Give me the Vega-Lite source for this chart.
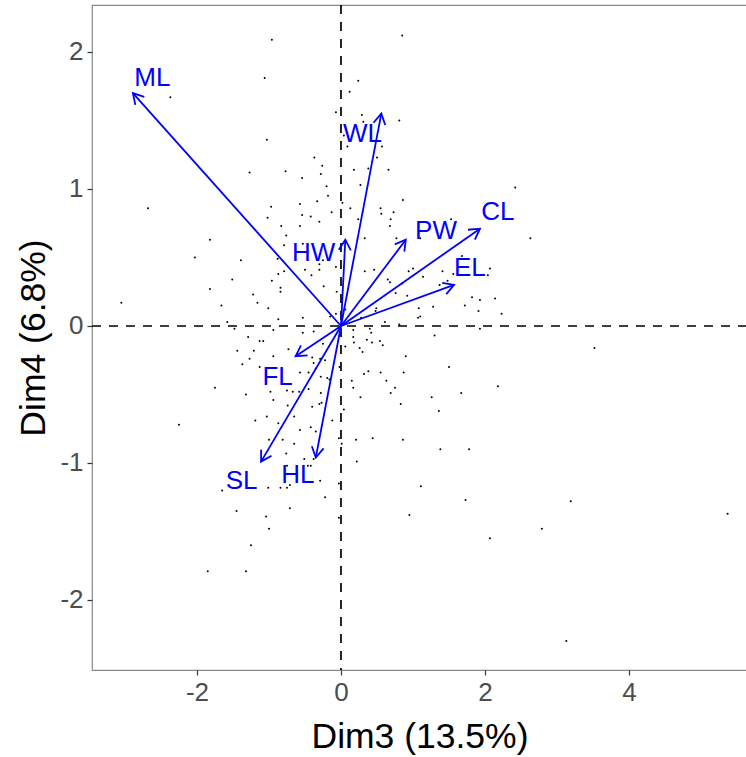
{
  "$schema": "https://vega.github.io/schema/vega-lite/v6.json",
  "width": 655,
  "height": 665,
  "autosize": {"type": "none"},
  "padding": {"left": 92, "top": 5, "right": 0, "bottom": 87},
  "background": "white",
  "config": {
    "font": "Liberation Sans",
    "view": {"stroke": "#888888", "strokeWidth": 1.2},
    "axis": {
      "grid": false,
      "domain": false,
      "ticks": true,
      "tickColor": "#333333",
      "tickSize": 5,
      "tickWidth": 1.2,
      "labelFont": "Liberation Sans",
      "labelFontSize": 26,
      "labelColor": "#4D4D4D",
      "labelExpr": "'' + datum.value",
      "titleFont": "Liberation Sans",
      "titleFontSize": 35.5,
      "titleFontWeight": "normal",
      "titleColor": "#000000"
    }
  },
  "datasets": {
    "arrows": [
      {"var": "ML", "x0": 0, "y0": 0, "x": -2.89, "y": 1.70, "lx": -2.62, "ly": 1.81},
      {"var": "WL", "x0": 0, "y0": 0, "x": 0.56, "y": 1.55, "lx": 0.30, "ly": 1.40},
      {"var": "CL", "x0": 0, "y0": 0, "x": 1.93, "y": 0.71, "lx": 2.18, "ly": 0.83},
      {"var": "PW", "x0": 0, "y0": 0, "x": 0.90, "y": 0.63, "lx": 1.32, "ly": 0.69},
      {"var": "EL", "x0": 0, "y0": 0, "x": 1.57, "y": 0.30, "lx": 1.79, "ly": 0.42},
      {"var": "HW", "x0": 0, "y0": 0, "x": 0.06, "y": 0.63, "lx": -0.38, "ly": 0.53},
      {"var": "FL", "x0": 0, "y0": 0, "x": -0.63, "y": -0.22, "lx": -0.88, "ly": -0.37},
      {"var": "SL", "x0": 0, "y0": 0, "x": -1.11, "y": -0.99, "lx": -1.38, "ly": -1.13},
      {"var": "HL", "x0": 0, "y0": 0, "x": -0.35, "y": -0.96, "lx": -0.60, "ly": -1.09}
    ],
    "obs": [
      {"x": -2.37, "y": 1.67}, {"x": -1.27, "y": 1.12}, {"x": -2.68, "y": 0.86},
      {"x": -0.96, "y": 2.09}, {"x": 0.85, "y": 2.12}, {"x": -1.06, "y": 1.81}, {"x": 0.24, "y": 1.79},
      {"x": 0.12, "y": 1.71}, {"x": -0.07, "y": 1.56}, {"x": 0.29, "y": 1.54}, {"x": 0.31, "y": 1.49},
      {"x": 0.81, "y": 1.50}, {"x": -1.03, "y": 1.36}, {"x": 0.04, "y": 1.39}, {"x": 0.09, "y": 1.31},
      {"x": 0.57, "y": 1.31}, {"x": -0.37, "y": 1.23}, {"x": 0.50, "y": 1.23}, {"x": -0.26, "y": 1.17},
      {"x": -0.77, "y": 1.13}, {"x": 0.18, "y": 1.14}, {"x": 0.38, "y": 1.15}, {"x": 0.66, "y": 1.14},
      {"x": -0.28, "y": 1.11}, {"x": -0.54, "y": 1.08}, {"x": 0.27, "y": 1.03}, {"x": -0.20, "y": 1.02},
      {"x": -0.18, "y": 0.95}, {"x": 0.86, "y": 0.92}, {"x": -0.33, "y": 0.91}, {"x": 0.02, "y": 0.90},
      {"x": -0.57, "y": 0.89}, {"x": -0.97, "y": 0.87}, {"x": 0.13, "y": 0.86}, {"x": 0.55, "y": 0.86},
      {"x": 0.73, "y": 0.83}, {"x": -0.54, "y": 0.81}, {"x": -0.42, "y": 0.80}, {"x": -0.13, "y": 0.83},
      {"x": 0.56, "y": 0.82}, {"x": -1.02, "y": 0.79}, {"x": 0.24, "y": 0.78}, {"x": 0.69, "y": 0.78},
      {"x": -0.30, "y": 0.76}, {"x": -0.83, "y": 0.73}, {"x": -0.57, "y": 0.73}, {"x": 0.68, "y": 0.73},
      {"x": 2.42, "y": 1.01}, {"x": 1.53, "y": 0.78},
      {"x": -1.82, "y": 0.63}, {"x": -2.03, "y": 0.50}, {"x": -1.39, "y": 0.48}, {"x": -1.51, "y": 0.34},
      {"x": -1.82, "y": 0.27}, {"x": -1.22, "y": 0.23}, {"x": -3.05, "y": 0.17}, {"x": -1.66, "y": 0.15},
      {"x": -1.58, "y": 0.03}, {"x": -1.48, "y": -0.02}, {"x": -1.29, "y": -0.08}, {"x": -1.44, "y": -0.18},
      {"x": -1.21, "y": -0.18}, {"x": -1.27, "y": -0.24}, {"x": -1.37, "y": -0.28}, {"x": -1.75, "y": -0.45},
      {"x": -1.32, "y": -0.50}, {"x": -1.19, "y": -0.69}, {"x": -2.25, "y": -0.72},
      {"x": -0.76, "y": 0.66}, {"x": -0.53, "y": 0.60}, {"x": -0.79, "y": 0.59}, {"x": 0.33, "y": 0.64},
      {"x": 0.77, "y": 0.64}, {"x": -0.88, "y": 0.49}, {"x": -0.25, "y": 0.48}, {"x": -0.30, "y": 0.45},
      {"x": -0.30, "y": 0.41}, {"x": -0.07, "y": 0.43}, {"x": -0.50, "y": 0.41}, {"x": -0.79, "y": 0.40},
      {"x": -0.87, "y": 0.38}, {"x": -0.41, "y": 0.37}, {"x": 0.33, "y": 0.40}, {"x": 0.46, "y": 0.41},
      {"x": 0.94, "y": 0.40}, {"x": 1.00, "y": 0.42}, {"x": -0.96, "y": 0.33}, {"x": 0.65, "y": 0.34},
      {"x": 0.68, "y": 0.32}, {"x": 0.85, "y": 0.31}, {"x": -0.84, "y": 0.28}, {"x": -0.24, "y": 0.29},
      {"x": -0.84, "y": 0.25}, {"x": -0.06, "y": 0.25}, {"x": 0.76, "y": 0.24}, {"x": 0.92, "y": 0.22},
      {"x": -1.16, "y": 0.17}, {"x": -1.01, "y": 0.13}, {"x": 0.06, "y": 0.12}, {"x": 0.49, "y": 0.13},
      {"x": 0.48, "y": 0.11}, {"x": 1.08, "y": 0.13}, {"x": -0.07, "y": 0.09}, {"x": -0.15, "y": 0.07},
      {"x": 0.28, "y": 0.06}, {"x": -0.53, "y": 0.06}, {"x": -0.87, "y": 0.05}, {"x": 0.61, "y": 0.03},
      {"x": 0.81, "y": 0.01}, {"x": 1.07, "y": 0.06}, {"x": -0.94, "y": -0.03}, {"x": -0.53, "y": -0.05},
      {"x": -0.38, "y": -0.04}, {"x": 0.17, "y": -0.03}, {"x": 0.40, "y": -0.02}, {"x": -1.13, "y": -0.11},
      {"x": -1.08, "y": -0.11}, {"x": 0.17, "y": -0.08}, {"x": 0.42, "y": -0.05}, {"x": 0.36, "y": -0.10},
      {"x": 0.43, "y": -0.12}, {"x": 0.54, "y": -0.11}, {"x": 0.18, "y": -0.12}, {"x": 0.06, "y": -0.15},
      {"x": 0.26, "y": -0.16}, {"x": 0.58, "y": -0.14}, {"x": 0.30, "y": -0.19}, {"x": -0.73, "y": -0.17},
      {"x": -0.25, "y": -0.13}, {"x": -0.94, "y": -0.22}, {"x": -0.40, "y": -0.23}, {"x": 0.90, "y": -0.22},
      {"x": -0.38, "y": -0.27}, {"x": -0.29, "y": -0.24}, {"x": -0.22, "y": -0.25}, {"x": -1.13, "y": -0.30},
      {"x": -0.02, "y": -0.30}, {"x": -0.35, "y": -0.31}, {"x": -0.57, "y": -0.34}, {"x": -0.45, "y": -0.34},
      {"x": 0.38, "y": -0.33}, {"x": 0.32, "y": -0.35}, {"x": 0.55, "y": -0.34}, {"x": 0.87, "y": -0.34},
      {"x": -0.28, "y": -0.37}, {"x": -0.19, "y": -0.38}, {"x": -0.16, "y": -0.39}, {"x": 0.15, "y": -0.40},
      {"x": 0.63, "y": -0.40}, {"x": 0.17, "y": -0.45}, {"x": 0.75, "y": -0.45}, {"x": -0.45, "y": -0.46},
      {"x": -0.98, "y": -0.48}, {"x": -0.75, "y": -0.47}, {"x": -0.67, "y": -0.48}, {"x": -0.58, "y": -0.48},
      {"x": -0.28, "y": -0.49}, {"x": 0.69, "y": -0.49}, {"x": 0.27, "y": -0.52}, {"x": -0.94, "y": -0.54},
      {"x": -0.27, "y": -0.56}, {"x": -0.30, "y": -0.57}, {"x": 0.83, "y": -0.57}, {"x": -0.40, "y": -0.59},
      {"x": -0.74, "y": -0.58}, {"x": 0.04, "y": -0.61}, {"x": -1.03, "y": -0.66}, {"x": -0.65, "y": -0.66},
      {"x": -0.12, "y": -0.69}, {"x": -0.87, "y": -0.71}, {"x": -0.57, "y": -0.76}, {"x": -0.42, "y": -0.74},
      {"x": -0.35, "y": -0.77}, {"x": -0.03, "y": -0.82}, {"x": -1.00, "y": -0.83}, {"x": -0.81, "y": -0.83},
      {"x": 0.21, "y": -0.83}, {"x": 0.44, "y": -0.82}, {"x": 0.86, "y": -0.83}, {"x": 0.01, "y": -0.86},
      {"x": -0.65, "y": -0.86},
      {"x": 1.10, "y": 0.64}, {"x": 2.63, "y": 0.64}, {"x": 1.68, "y": 0.51}, {"x": 2.07, "y": 0.42},
      {"x": 2.04, "y": 0.37}, {"x": 1.41, "y": 0.40}, {"x": 1.56, "y": 0.38}, {"x": 1.14, "y": 0.36},
      {"x": 1.48, "y": 0.33}, {"x": 1.37, "y": 0.30}, {"x": 1.82, "y": 0.21}, {"x": 1.93, "y": 0.19},
      {"x": 2.14, "y": 0.20}, {"x": 1.72, "y": 0.15}, {"x": 1.28, "y": 0.14}, {"x": 1.91, "y": 0.11},
      {"x": 2.23, "y": 0.09}, {"x": 1.10, "y": 0.07}, {"x": 1.93, "y": -0.02}, {"x": 1.30, "y": -0.07},
      {"x": 1.50, "y": -0.30}, {"x": 2.18, "y": -0.44}, {"x": 1.67, "y": -0.49}, {"x": 1.26, "y": -0.52},
      {"x": 1.36, "y": -0.62}, {"x": 3.52, "y": -0.16},
      {"x": -1.65, "y": -1.20}, {"x": -1.45, "y": -1.35}, {"x": -1.25, "y": -1.60}, {"x": -1.85, "y": -1.79},
      {"x": -1.32, "y": -1.79},
      {"x": -0.76, "y": -0.93}, {"x": -0.51, "y": -0.97}, {"x": -0.38, "y": -0.97}, {"x": 0.22, "y": -0.99},
      {"x": -0.75, "y": -1.02}, {"x": -0.46, "y": -1.02}, {"x": -0.42, "y": -1.02}, {"x": -0.29, "y": -1.13},
      {"x": -0.03, "y": -1.15}, {"x": -1.01, "y": -1.18}, {"x": -0.84, "y": -1.18}, {"x": -0.75, "y": -1.18},
      {"x": -0.71, "y": -1.16}, {"x": -0.22, "y": -1.25}, {"x": -0.71, "y": -1.33}, {"x": -0.03, "y": -1.40},
      {"x": 0.95, "y": -1.38}, {"x": -1.04, "y": -1.39}, {"x": -1.00, "y": -1.48},
      {"x": 1.38, "y": -0.90}, {"x": 1.78, "y": -0.90}, {"x": 1.11, "y": -1.17}, {"x": 1.73, "y": -1.27},
      {"x": 3.19, "y": -1.28}, {"x": 2.79, "y": -1.48}, {"x": 2.07, "y": -1.55}, {"x": 3.13, "y": -2.30},
      {"x": 5.37, "y": -1.37}
    ]
  },
  "layer": [
    {
      "data": {"name": "obs"},
      "mark": {"type": "circle", "size": 4, "color": "#000000", "opacity": 1},
      "encoding": {
        "x": {"field": "x", "type": "quantitative",
              "scale": {"domain": [-3.458, 5.639], "nice": false, "zero": false},
              "axis": {"values": [-2, 0, 2, 4], "title": "Dim3 (13.5%)", "labelPadding": 4, "titlePadding": 14}},
        "y": {"field": "y", "type": "quantitative",
              "scale": {"domain": [-2.511, 2.343], "nice": false, "zero": false},
              "axis": {"values": [-2, -1, 0, 1, 2], "title": "Dim4 (6.8%)", "labelPadding": 4, "titlePadding": 8}}
      }
    },
    {
      "data": {"values": [{"v": 0}]},
      "mark": {"type": "rule", "color": "#000000", "strokeWidth": 1.7, "strokeDash": [9, 8]},
      "encoding": {"x": {"field": "v", "type": "quantitative"}}
    },
    {
      "data": {"values": [{"v": 0}]},
      "mark": {"type": "rule", "color": "#000000", "strokeWidth": 1.7, "strokeDash": [9, 8]},
      "encoding": {"y": {"field": "v", "type": "quantitative"}}
    },
    {
      "data": {"name": "arrows"},
      "mark": {"type": "rule", "color": "#0000FF", "strokeWidth": 1.8},
      "encoding": {
        "x": {"field": "x0", "type": "quantitative"},
        "y": {"field": "y0", "type": "quantitative"},
        "x2": {"field": "x"},
        "y2": {"field": "y"}
      }
    },
    {
      "data": {"name": "arrows"},
      "transform": [{"calculate": "atan2(-datum.y * 137, datum.x * 72) * 180 / PI", "as": "ang"}],
      "mark": {"type": "point", "shape": "M -0.866 -0.5 L 0 0 L -0.866 0.5", "filled": false, "size": 576, "stroke": "#0000FF", "strokeWidth": 1.8, "opacity": 1},
      "encoding": {
        "x": {"field": "x", "type": "quantitative"},
        "y": {"field": "y", "type": "quantitative"},
        "angle": {"field": "ang", "type": "quantitative", "scale": null}
      }
    },
    {
      "data": {"name": "arrows"},
      "mark": {"type": "text", "color": "#0000FF", "fontSize": 26, "font": "Liberation Sans", "align": "center", "baseline": "middle"},
      "encoding": {
        "x": {"field": "lx", "type": "quantitative"},
        "y": {"field": "ly", "type": "quantitative"},
        "text": {"field": "var"}
      }
    }
  ]
}
